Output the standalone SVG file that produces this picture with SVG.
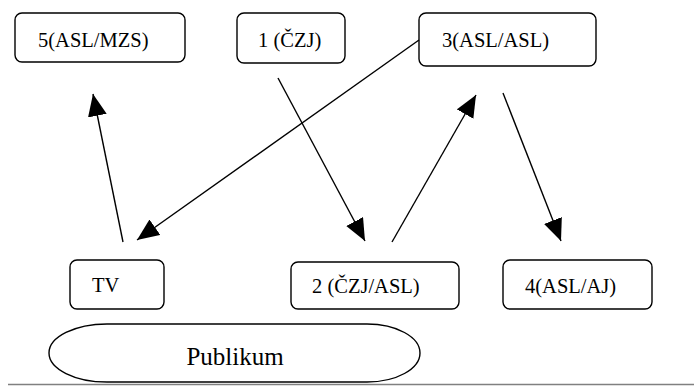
<svg xmlns="http://www.w3.org/2000/svg" width="697" height="387" viewBox="0 0 697 387">
<style>
.box{fill:#fff;stroke:#000;stroke-width:1.4}
.t{font-family:'Liberation Serif','Times New Roman',Times,'DejaVu Serif',serif;font-size:20.5px;fill:#000}
.big{font-size:25px}
.c{stroke:#000;stroke-width:1.4;fill:none;marker-end:url(#ah)}
</style>
<defs>
<marker id="ah" markerUnits="userSpaceOnUse" markerWidth="24" markerHeight="20" refX="22" refY="9.5" orient="auto">
<path d="M0,0 L22,9.5 L0,19 Z" fill="#000"/>
</marker>
</defs>
<rect width="697" height="387" fill="#fff"/>
<g id="n5"><rect class="box" x="15" y="13" width="170" height="49" rx="7"/><text class="t" x="38" y="47" font-family="Liberation Serif, serif">5(ASL/MZS)</text></g>
<g id="n1"><rect class="box" x="237" y="13" width="108" height="50" rx="7"/><text class="t" x="258" y="47" font-family="Liberation Serif, serif">1 (ČZJ)</text></g>
<g id="n3"><rect class="box" x="419" y="13" width="177" height="53" rx="7"/><text class="t" x="442" y="47" font-family="Liberation Serif, serif">3(ASL/ASL)</text></g>
<g id="tv"><rect class="box" x="70" y="260" width="94" height="49" rx="7"/><text class="t" x="92" y="292" font-family="Liberation Serif, serif">TV</text></g>
<g id="n2"><rect class="box" x="291" y="262" width="168" height="47" rx="7"/><text class="t" x="312" y="293" font-family="Liberation Serif, serif">2 (ČZJ/ASL)</text></g>
<g id="n4"><rect class="box" x="503" y="260" width="149" height="49" rx="7"/><text class="t" x="525" y="293" font-family="Liberation Serif, serif">4(ASL/AJ)</text></g>
<g id="publikum"><path class="box" d="M107,324 L367,324 A53,29 0 0 1 367,382 L107,382 A58,29 0 0 1 107,324 Z"/><text class="t big" x="235" y="365" text-anchor="middle" font-family="Liberation Serif, serif">Publikum</text></g>
<g id="connectors">
<line class="c" x1="123" y1="242" x2="93" y2="94"/>
<line class="c" x1="419" y1="40" x2="137" y2="240"/>
<line class="c" x1="278" y1="78" x2="365" y2="241"/>
<line class="c" x1="392" y1="242" x2="476" y2="95"/>
<line class="c" x1="503" y1="93" x2="561" y2="241"/>
</g>
<line x1="8" y1="384.5" x2="694" y2="384.5" stroke="#808080" stroke-width="1.5"/>
</svg>
